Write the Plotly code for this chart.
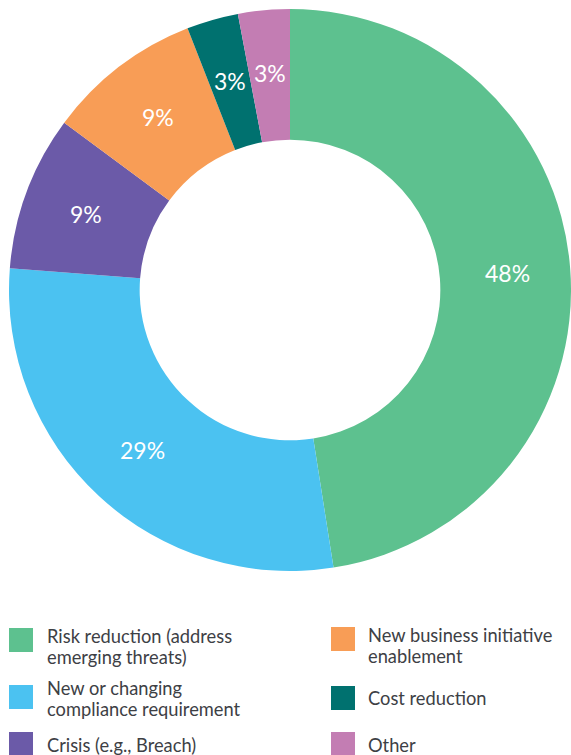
import math
import plotly.graph_objects as go

# Drivers of security spend, share of respondents
labels = [
    "Risk reduction (address emerging threats)",
    "New or changing compliance requirement",
    "Crisis (e.g., Breach)",
    "New business initiative enablement",
    "Cost reduction",
    "Other",
]
values = [48, 29, 9, 9, 3, 3]
colors = ["#5dc18f", "#4bc2f1", "#6b5aa8", "#f89d56", "#00716f", "#c37db3"]

# Legend text, laid out in two columns (one entry per line)
legend_left = [
    (["Risk reduction (address", "emerging threats)"], 0),
    (["New or changing", "compliance requirement"], 1),
    (["Crisis (e.g., Breach)"], 2),
]
legend_right = [
    (["New business initiative", "enablement"], 3),
    (["Cost reduction"], 4),
    (["Other"], 5),
]

W, H = 571, 755
FONT = "Lato"
TEXT_GREY = "#3d4045"

# Donut geometry in pixels
CX, CY, R_OUT = 290, 290, 281
HOLE = 0.535

fig = go.Figure(
    go.Pie(
        labels=labels,
        values=values,
        hole=HOLE,
        sort=False,
        direction="clockwise",
        rotation=0,
        marker=dict(colors=colors, line=dict(width=0)),
        textinfo="none",
        hoverinfo="label+percent",
        domain=dict(x=[(CX - R_OUT) / W, (CX + R_OUT) / W],
                    y=[(H - CY - R_OUT) / H, (H - CY + R_OUT) / H]),
        showlegend=False,
    )
)


def px_x(x):
    return x / W


def px_y(y):
    return 1 - y / H


shapes = []
annotations = []

# Value labels centred in each ring segment
total = sum(values)
r_mid = R_OUT * (1 + HOLE) / 2 + 2
cum = 0
for v in values:
    ang = 2 * math.pi * (cum + v / 2) / total
    cum += v
    x = CX + r_mid * math.sin(ang)
    y = CY - r_mid * math.cos(ang)
    annotations.append(dict(text=f"{v}%", xref="paper", yref="paper",
                            x=px_x(x), y=px_y(y), xanchor="center", yanchor="middle",
                            showarrow=False,
                            font=dict(family=FONT, size=23, color="white")))

# Legend rows: (square top, first-line centre) in pixels
left_rows = [(628, 636), (685, 688), (732, 745)]
right_rows = [(627, 635), (686, 698), (732, 745)]
LINE_GAP = 21


def add_entry(lines, idx, sq_top, ty, sq_x, txt_x):
    shapes.append(dict(type="rect", xref="paper", yref="paper",
                       x0=px_x(sq_x), x1=px_x(sq_x + 24), y0=px_y(sq_top), y1=px_y(sq_top + 24),
                       fillcolor=colors[idx], line=dict(width=0)))
    for k, line in enumerate(lines):
        annotations.append(dict(text=line, xref="paper", yref="paper",
                                x=px_x(txt_x), y=px_y(ty + k * LINE_GAP),
                                xanchor="left", yanchor="middle",
                                align="left", showarrow=False,
                                font=dict(family=FONT, size=18.3, color=TEXT_GREY)))


for (lines, idx), (sq_top, ty) in zip(legend_left, left_rows):
    add_entry(lines, idx, sq_top, ty, 9, 45)

for (lines, idx), (sq_top, ty) in zip(legend_right, right_rows):
    add_entry(lines, idx, sq_top, ty, 331, 366)

fig.update_layout(
    width=W,
    height=H,
    margin=dict(l=0, r=0, t=0, b=0),
    paper_bgcolor="white",
    plot_bgcolor="white",
    shapes=shapes,
    annotations=annotations,
)

fig.write_html("out.html")
